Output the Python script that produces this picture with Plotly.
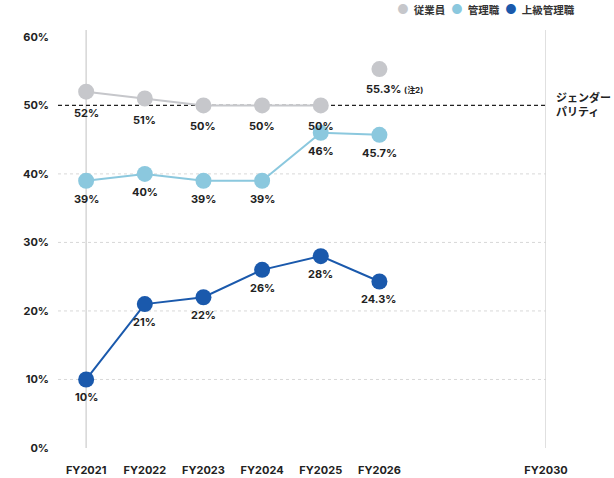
import plotly.graph_objects as go

# data
years = ["FY2021", "FY2022", "FY2023", "FY2024", "FY2025", "FY2026"]
target_year = "FY2030"
employees = [52, 51, 50, 50, 50]          # FY2021-FY2025
employees_fy2026 = 55.3                   # (注2)
managers = [39, 40, 39, 39, 46, 45.7]
senior_managers = [10, 21, 22, 26, 28, 24.3]
series_names = ["従業員", "管理職", "上級管理職"]
y_ticks = [0, 10, 20, 30, 40, 50, 60]
parity_level = 50

GRAY = "#c6c7cb"
LIGHT_BLUE = "#8bc8de"
DARK_BLUE = "#1a59ac"
TEXT = "#222222"
FONT = "Inter, 'Noto Sans CJK JP', sans-serif"

# categorical positions; FY2030 sits a bit further out, as in the original
xpos = list(range(len(years)))
x_target = 7.84
x_min, x_max = -0.48, x_target

W, H = 614, 478
M = dict(l=58, r=68, t=30, b=30)
plot_w = W - M["l"] - M["r"]
plot_h = H - M["t"] - M["b"]


def pct(v):
    return f"{v:g}%"


fig = go.Figure()
label_font = dict(family=FONT, size=11, color=TEXT, weight="bold")


def add_series(xs, ys, color, line=True):
    fig.add_trace(go.Scatter(
        x=xs, y=ys, mode="lines+markers" if line else "markers",
        line=dict(color=color, width=2), marker=dict(color=color, size=16),
        showlegend=False, hoverinfo="skip"))


def add_labels(xs, ys, shift):
    for xv, yv in zip(xs, ys):
        fig.add_annotation(x=xv, y=yv, text=pct(yv), showarrow=False,
                           yshift=shift, font=label_font)


add_series(xpos[:len(employees)], employees, GRAY)
add_series([xpos[len(employees)]], [employees_fy2026], GRAY, line=False)
add_series(xpos, managers, LIGHT_BLUE)
add_series(xpos, senior_managers, DARK_BLUE)

add_labels(xpos[:len(employees)], employees, -21)
add_labels(xpos, managers, -18)
add_labels(xpos, senior_managers, -18)
fig.add_annotation(x=xpos[len(employees)], y=employees_fy2026,
                   text=pct(employees_fy2026) + " <span style='font-size:8px'>(注2)</span>",
                   showarrow=False, yshift=-20, xanchor="left", xshift=-15,
                   font=label_font)

# legend drawn as coloured dots + names (compact, like the original)
legend_px = [395, 449, 503]
for name, color, lx in zip(series_names, [GRAY, LIGHT_BLUE, DARK_BLUE], legend_px):
    fig.add_annotation(x=(lx - M["l"]) / plot_w, y=1 + (M["t"] - 9) / plot_h,
                       xref="paper", yref="paper",
                       text=f"<span style='color:{color};font-size:13px'>●</span>  {name}",
                       showarrow=False, xanchor="left", yanchor="middle",
                       font=dict(family=FONT, size=10.5, color="#333333", weight="bold"))

# dotted gridlines, vertical guides and the parity line
for t in y_ticks[1:-2]:
    fig.add_shape(type="line", x0=x_min, x1=x_max, y0=t, y1=t, layer="below",
                  line=dict(color="#d8d8d8", width=1, dash="dot"))
for xv in (xpos[0], x_target):
    fig.add_shape(type="line", x0=xv, x1=xv, y0=0, y1=61, layer="below",
                  line=dict(color="#d6d6d6", width=1.5))
fig.add_shape(type="line", x0=x_min, x1=x_max, y0=parity_level, y1=parity_level,
              layer="below", line=dict(color="#222222", width=1.2, dash="4px,3px"))

fig.add_annotation(x=x_target, y=parity_level, xref="x", yref="y",
                   text="ジェンダー<br>パリティ", showarrow=False,
                   xanchor="left", yanchor="middle", xshift=8, align="left",
                   font=dict(family=FONT, size=11, color=TEXT, weight="bold"))

fig.update_layout(
    width=W, height=H,
    margin=dict(**M, autoexpand=False),
    paper_bgcolor="white", plot_bgcolor="white",
    font=dict(family=FONT, color=TEXT),
    showlegend=False,
    xaxis=dict(range=[x_min, x_max], tickvals=xpos + [x_target],
               ticktext=years + [target_year], showgrid=False, zeroline=False,
               showline=False, ticks="", ticklabelstandoff=14, automargin=False,
               tickfont=dict(family=FONT, size=11, color=TEXT, weight="bold")),
    yaxis=dict(range=[0, 61], tickvals=y_ticks, ticktext=[pct(v) for v in y_ticks],
               showgrid=False, zeroline=False, showline=False, ticks="",
               ticklabelstandoff=8, automargin=False,
               tickfont=dict(family=FONT, size=11, color=TEXT, weight="bold")),
)

# drop the browser's default 8px body margin so the figure fills the window
fig.write_html("out.html", config={"displayModeBar": False},
               post_script="document.body.style.margin='0';")
